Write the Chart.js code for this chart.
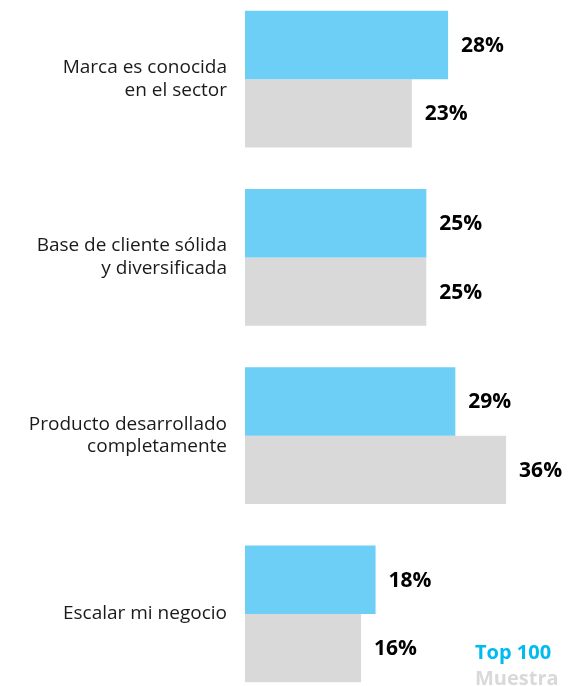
<!DOCTYPE html>
<html lang="es">
<head>
<meta charset="utf-8">
<title>Top 100 vs Muestra</title>
<script src="https://cdn.jsdelivr.net/npm/chart.js@4.4.1/dist/chart.umd.min.js"></script>
<style>
  html, body { margin: 0; padding: 0; background: #fff; }
  body { width: 583px; height: 686px; overflow: hidden; position: relative; font-family: "Open Sans", sans-serif; }
  #wrap { position: absolute; left: 0; top: -10px; width: 583px; height: 713px; }
  #legend { position: absolute; left: 475px; top: 639px; font-weight: 700; font-size: 20px; line-height: 26px; }
  #legend .top { color: #00bbf0; }
  #legend .muestra { color: #d9d9d9; }
</style>
</head>
<body>
<div id="wrap"><canvas id="chart"></canvas></div>
<div id="legend"><div class="top">Top 100</div><div class="muestra">Muestra</div></div>
<script>
'use strict';

// ── Data ───────────────────────────────────────────────────────────────────
const categories = [
  ['Marca es conocida', 'en el sector'],
  ['Base de cliente sólida', 'y diversificada'],
  ['Producto desarrollado', 'completamente'],
  ['Escalar mi negocio'],
];
const seriesNames = ['Top 100', 'Muestra'];
const top100  = [28, 25, 29, 18];
const muestra = [23, 25, 36, 16];

const COLORS = { blue: '#6dcff6', grey: '#d9d9d9', text: '#1a1a1a' };

// ── Value labels ───────────────────────────────────────────────────────────
const valueLabels = {
  id: 'valueLabels',
  afterDatasetsDraw(chart) {
    const ctx = chart.ctx;
    ctx.save();
    ctx.font = '700 21px "Open Sans", sans-serif';
    ctx.fillStyle = '#000';
    ctx.textAlign = 'left';
    ctx.textBaseline = 'middle';
    chart.data.datasets.forEach((ds, i) => {
      chart.getDatasetMeta(i).data.forEach((bar, j) => {
        ctx.fillText(`${ds.data[j]}%`, bar.x + 13, bar.y + 1);
      });
    });
    ctx.restore();
  },
};

new Chart(document.getElementById('chart'), {
  type: 'bar',
  data: {
    labels: categories,
    datasets: [
      { label: seriesNames[0], data: top100,  backgroundColor: COLORS.blue },
      { label: seriesNames[1], data: muestra, backgroundColor: COLORS.grey },
    ],
  },
  options: {
    indexAxis: 'y',
    responsive: true,
    maintainAspectRatio: false,
    animation: false,
    layout: { padding: 0 },
    datasets: { bar: { barPercentage: 1, categoryPercentage: 0.768, borderWidth: 0 } },
    plugins: { legend: { display: false }, tooltip: { enabled: false } },
    scales: {
      x: { display: false, min: 0, max: 46.6 },
      y: {
        grid: { display: false, drawTicks: false },
        border: { display: false },
        ticks: {
          color: COLORS.text,
          padding: 18,
          font: { family: '"Open Sans", sans-serif', size: 19, lineHeight: 1.2 },
        },
        afterFit(scale) {
          scale.width = 245;
          // labels may spill past the chart area; keep the bands full height
          scale.paddingTop = 0;
          scale.paddingBottom = 0;
        },
      },
    },
  },
  plugins: [valueLabels],
});
</script>
</body>
</html>
